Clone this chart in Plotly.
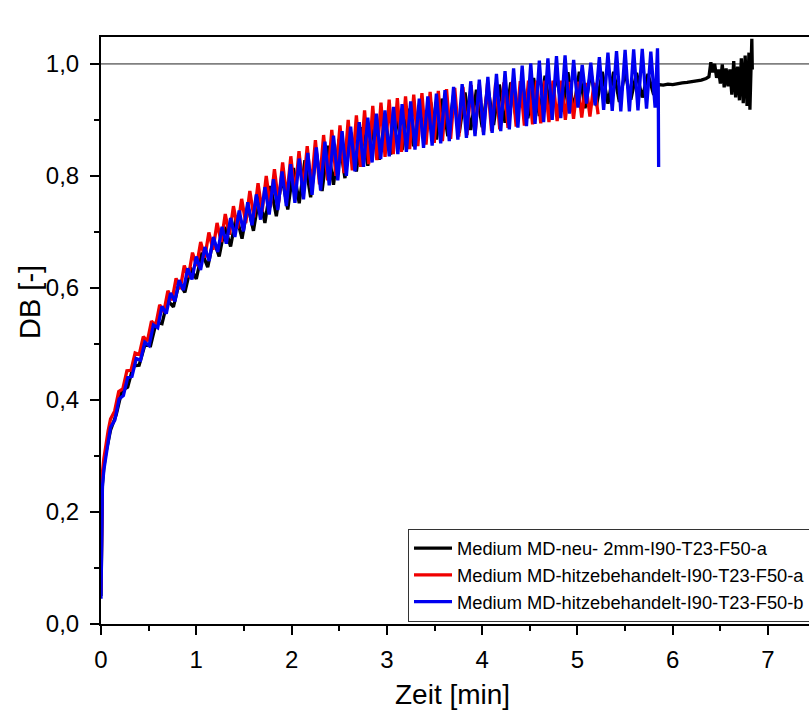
import plotly.graph_objects as go

# ---------------- data ----------------
series_names = [
    "Medium MD-neu- 2mm-I90-T23-F50-a",
    "Medium MD-hitzebehandelt-I90-T23-F50-a",
    "Medium MD-hitzebehandelt-I90-T23-F50-b",
]

black_x = [0.0, 0.004, 0.008, 0.015, 0.03, 0.05, 0.075,
    0.10,0.16,0.22,0.28,0.34,0.40,0.46,0.52,0.58,0.64,
    0.70,0.76,0.82,0.88,0.94,1.00,1.06,1.12,1.18,1.24,
    1.30,1.36,1.42,1.48,1.54,1.60,1.66,1.72,1.78,1.84,
    1.90,1.96,2.02,2.08,2.14,2.20,2.26,2.32,2.38,2.44,
    2.50,2.56,2.62,2.68,2.74,2.80,2.86,2.92,2.98,3.04,
    3.10,3.16,3.22,3.28,3.34,3.40,3.46,3.52,3.58,3.64,
    3.70,3.76,3.82,3.88,3.94,4.00,4.06,4.12,4.18,4.24,
    4.30,4.36,4.42,4.48,4.54,4.60,4.66,4.72,4.78,4.84,
    4.90,4.96,5.02,5.08,5.14,5.20,5.26,5.32,5.38,5.44,
    5.50,5.56,5.62,5.68,5.74,5.80,
    5.85,5.90,5.95,6.00,6.05,6.10,6.15,6.20,6.25,6.30,
    6.35,6.38,6.40,6.42,6.44,6.46,6.48,6.50,6.52,6.54,
    6.56,6.58,6.60,6.62,6.64,6.66,6.68,6.70,6.72,6.74,
    6.76,6.78,6.80,6.81,6.83,6.835]
black_y = [0.05, 0.16, 0.22, 0.25, 0.28, 0.305, 0.325,
    .346,.374,.417,.423,.461,.462,.498,.497,.539,.536,
    .578,.566,.609,.592,.636,.616,.663,.637,.687,.656,
    .709,.674,.729,.688,.747,.702,.765,.716,.782,.728,
    .798,.740,.814,.751,.828,.762,.841,.773,.854,.784,
    .866,.796,.878,.808,.887,.818,.896,.829,.904,.838,
    .912,.846,.920,.853,.926,.859,.932,.865,.938,.871,
    .944,.877,.949,.882,.954,.887,.959,.891,.963,.895,
    .967,.899,.971,.903,.975,.907,.979,.911,.983,.915,
    .985,.918,.986,.921,.986,.925,.986,.929,.986,.932,
    .985,.936,.984,.940,.982,.945,
    .963,.962,.964,.963,.965,.966,.967,.968,.970,.971,
    .974,.977,1.003,.985,1.000,.975,.990,.965,.999,.958,
    .992,.960,.990,.945,1.005,.940,.995,.935,1.010,.930,
    1.015,.925,1.020,.918,1.045,.990]

red_x = [0.0, 0.004, 0.008, 0.015, 0.03, 0.05, 0.075,
    0.100,0.143,0.186,0.229,0.272,0.315,0.358,0.401,0.444,0.487,
    0.530,0.573,0.616,0.659,0.702,0.745,0.788,0.831,0.874,0.917,
    0.960,1.003,1.046,1.089,1.132,1.175,1.218,1.261,1.304,1.347,
    1.390,1.433,1.476,1.519,1.562,1.605,1.648,1.691,1.734,1.777,
    1.820,1.863,1.906,1.949,1.992,2.035,2.078,2.121,2.164,2.207,
    2.250,2.293,2.336,2.379,2.422,2.465,2.508,2.551,2.594,2.637,
    2.680,2.723,2.766,2.809,2.852,2.895,2.938,2.981,3.024,3.067,
    3.110,3.153,3.196,3.239,3.282,3.325,3.368,3.411,3.454,3.497,
    3.540,3.583,3.626,3.669,3.712,3.755,3.798,3.841,3.884,3.927,
    3.970,4.013,4.056,4.099,4.142,4.185,4.228,4.271,4.314,4.357,
    4.400,4.443,4.486,4.529,4.572,4.615,4.658,4.701,4.744,4.787,
    4.830,4.873,4.916,4.959,5.002,5.045,5.088,5.131,5.174,5.217]
red_y = [0.06, 0.18, 0.24, 0.27, 0.295, 0.32, 0.345,
    .366,.380,.415,.420,.452,.453,.484,.481,.513,.505,
    .541,.532,.570,.557,.595,.578,.617,.598,.640,.619,
    .663,.639,.682,.654,.699,.668,.716,.682,.732,.695,
    .746,.706,.759,.716,.773,.726,.787,.736,.800,.744,
    .812,.752,.824,.760,.835,.767,.844,.773,.853,.779,
    .864,.785,.873,.792,.882,.800,.890,.805,.900,.810,
    .908,.816,.917,.821,.925,.828,.931,.834,.936,.839,
    .939,.843,.942,.848,.945,.853,.948,.856,.950,.859,
    .952,.862,.955,.866,.957,.870,.959,.873,.962,.876,
    .964,.878,.965,.880,.966,.883,.967,.886,.968,.888,
    .969,.890,.970,.892,.970,.894,.970,.896,.970,.898,
    .970,.900,.968,.902,.968,.904,.966,.906,.966,.910]

blue_x = [0.0, 0.004, 0.008, 0.015, 0.03, 0.05, 0.075,
    0.100,0.145,0.190,0.235,0.280,0.325,0.370,0.415,0.460,0.505,
    0.550,0.595,0.640,0.685,0.730,0.775,0.820,0.865,0.910,0.955,
    1.000,1.045,1.090,1.135,1.180,1.225,1.270,1.315,1.360,1.405,
    1.450,1.495,1.540,1.585,1.630,1.675,1.720,1.765,1.810,1.855,
    1.900,1.945,1.990,2.035,2.080,2.125,2.170,2.215,2.260,2.305,
    2.350,2.395,2.440,2.485,2.530,2.575,2.620,2.665,2.710,2.755,
    2.800,2.845,2.890,2.935,2.980,3.025,3.070,3.115,3.160,3.205,
    3.250,3.295,3.340,3.385,3.430,3.475,3.520,3.565,3.610,3.655,
    3.700,3.745,3.790,3.835,3.880,3.925,3.970,4.015,4.060,4.105,
    4.150,4.195,4.240,4.285,4.330,4.375,4.420,4.465,4.510,4.555,
    4.600,4.645,4.690,4.735,4.780,4.825,4.870,4.915,4.960,5.005,
    5.050,5.095,5.140,5.185,5.230,5.275,5.320,5.365,5.410,5.455,
    5.500,5.545,5.590,5.635,5.680,5.725,5.770,5.815,
    5.840,5.848,5.852]
blue_y = [0.045, 0.15, 0.21, 0.245, 0.275, 0.30, 0.325,
    .351,.364,.402,.408,.440,.442,.474,.471,.503,.497,
    .534,.529,.567,.554,.591,.576,.614,.596,.635,.615,
    .656,.632,.673,.648,.691,.664,.709,.679,.725,.691,
    .738,.701,.753,.712,.767,.722,.780,.731,.794,.739,
    .808,.746,.821,.752,.831,.758,.841,.766,.851,.774,
    .861,.783,.872,.792,.880,.800,.888,.808,.896,.816,
    .904,.824,.911,.830,.917,.835,.923,.839,.928,.843,
    .933,.847,.938,.850,.942,.854,.947,.858,.953,.862,
    .959,.865,.964,.868,.969,.871,.972,.873,.977,.877,
    .982,.880,.987,.883,.992,.886,.997,.889,1.001,.893,
    1.006,.896,1.010,.900,1.014,.903,1.015,.911,1.007,.922,
    .998,.929,1.002,.926,1.012,.918,1.020,.916,1.023,.915,
    1.025,.915,1.026,.917,1.027,.920,1.022,.922,
    1.028,0.960,0.816]

reference_level = 1.0
x_title = "Zeit [min]"
y_title = "DB [-]"
colors = ["#000000", "#f00000", "#0000f0"]

# ---------------- figure ----------------
fig = go.Figure()
for name, xs, ys, c in zip(series_names, [black_x, red_x, blue_x],
                           [black_y, red_y, blue_y], colors):
    fig.add_trace(go.Scatter(x=xs, y=ys, mode="lines", name=name,
                             line=dict(color=c, width=3.3)))

fig.add_shape(type="line", xref="paper", x0=0, x1=1, yref="y",
              y0=reference_level, y1=reference_level,
              line=dict(color="#808080", width=1.6), layer="below")

FONT = "Liberation Sans, Arial, sans-serif"
fig.update_layout(
    width=809, height=720,
    margin=dict(l=101, r=0, t=37, b=96, autoexpand=False),
    paper_bgcolor="white", plot_bgcolor="white",
    separators=",.",
    font=dict(family=FONT, color="black"),
    showlegend=True,
    legend=dict(x=(408 - 101) / 708, xanchor="left", y=0.004, yanchor="bottom",
                bgcolor="white", bordercolor="#333333", borderwidth=1,
                font=dict(size=18.3, family=FONT), tracegroupgap=0,
                itemwidth=38),
    xaxis=dict(range=[0, 7.43], dtick=1, tick0=0, showgrid=False, zeroline=False,
               showline=True, linecolor="black", linewidth=2, mirror=True,
               ticks="outside", ticklen=9, tickwidth=2, tickcolor="black",
               tickfont=dict(size=24, family=FONT), ticklabelstandoff=4,
               minor=dict(dtick=0.5, ticks="outside", ticklen=5, tickwidth=2,
                          tickcolor="black", showgrid=False)),
    yaxis=dict(range=[0, 1.048], dtick=0.2, tick0=0, tickformat=".1f",
               showgrid=False, zeroline=False,
               showline=True, linecolor="black", linewidth=2, mirror=False,
               ticks="outside", ticklen=9, tickwidth=2, tickcolor="black",
               tickfont=dict(size=24, family=FONT), ticklabelstandoff=6,
               minor=dict(dtick=0.1, ticks="outside", ticklen=5, tickwidth=2,
                          tickcolor="black", showgrid=False)),
    annotations=[
        dict(text=x_title, xref="paper", yref="paper", x=(452 - 101) / 708,
             y=-(694 - 624) / 587, xanchor="center", yanchor="middle",
             showarrow=False, font=dict(size=28, family=FONT)),
        dict(text=y_title, xref="paper", yref="paper", x=-(101 - 30) / 708,
             y=(624 - 302) / 587, xanchor="center", yanchor="middle",
             textangle=-90, showarrow=False, font=dict(size=29, family=FONT)),
    ],
)

fig.write_html("out.html")
